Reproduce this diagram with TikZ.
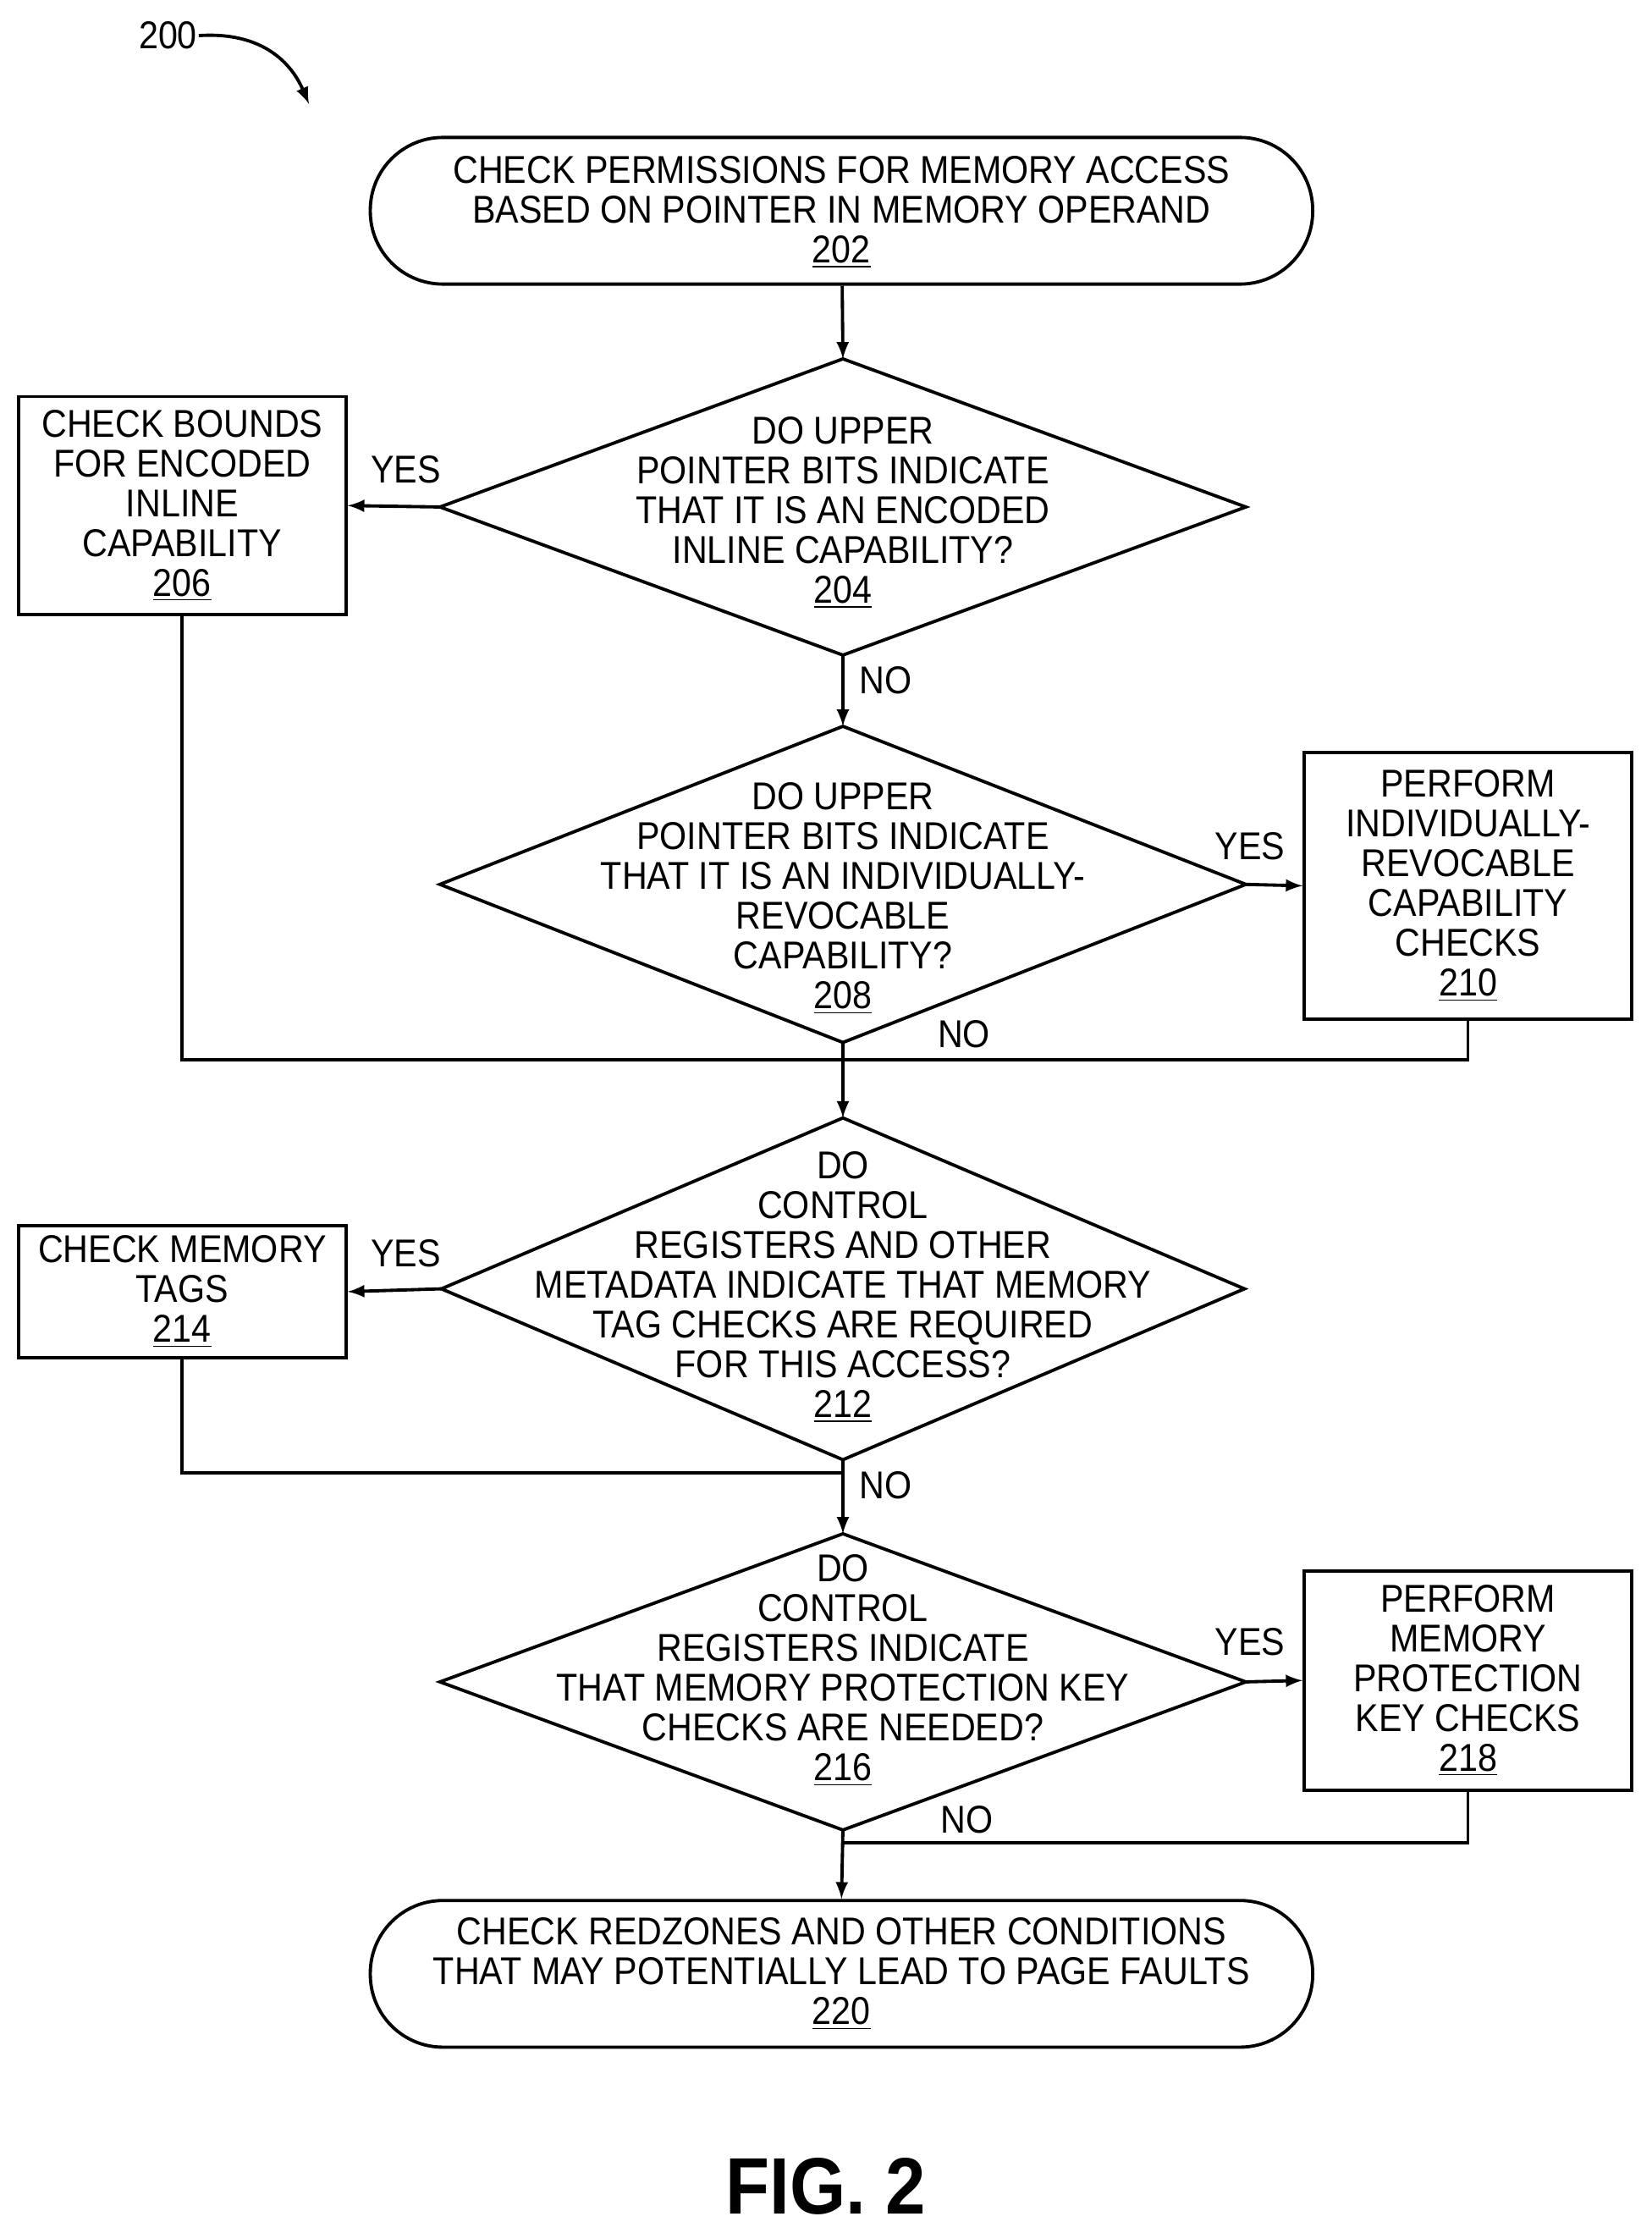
\documentclass[tikz,border=0pt]{standalone}
\usepackage{fontspec}
\setmainfont{Liberation Sans}[FakeStretch=0.9]
\usepackage{tikz}
\usetikzlibrary{positioning,arrows}

% diamond outline with named corner coordinates
\newcommand{\decbox}[5]{%
  \draw (#2-#4,#3) -- (#2,#3-#5) -- (#2+#4,#3) -- (#2,#3+#5) -- cycle;
  \coordinate (#1-n) at (#2,#3-#5);
  \coordinate (#1-s) at (#2,#3+#5);
  \coordinate (#1-w) at (#2-#4,#3);
  \coordinate (#1-e) at (#2+#4,#3);
}

\begin{document}
\begin{tikzpicture}[x=0.02cm,y=-0.02cm,line width=1.3pt,
  every node/.style={font=\fontsize{15.5}{15.9}\selectfont,align=center,inner sep=0pt},
  term/.style={draw,rounded corners=1.02cm,minimum width=13.24cm,minimum height=2.06cm},
  proc/.style={draw,minimum width=4.6cm},
  lbl/.style={font=\fontsize{15.5}{15.9}\selectfont},
  flow/.style={-latex}]

	\useasboundingbox (0,0) rectangle (1160,1568);

	%label
	\node (l200) at (118,25) {200};
	\coordinate (t200) at (217,73);
	\draw[flow] (l200.east) .. controls (185,22) and (205,45) .. (t200);

	%terminals
	\node[term] (n202) at (591,148) {};
	\node at (591,149) {CHECK PERMISSIONS FOR MEMORY ACCESS\\BASED ON POINTER IN MEMORY OPERAND\\\underline{202}};
	\node[term] (n220) at (591,1386) {};
	\node at (591,1386) {CHECK REDZONES AND OTHER CONDITIONS\\THAT MAY POTENTIALLY LEAD TO PAGE FAULTS\\\underline{220}};

	%decisions
	\decbox{d204}{592}{356}{283}{104}
	\node at (592,360) {DO UPPER\\POINTER BITS INDICATE\\THAT IT IS AN ENCODED\\INLINE CAPABILITY?\\\underline{204}};
	\decbox{d208}{592}{621}{283}{111}
	\node at (592,631) {DO UPPER\\POINTER BITS INDICATE\\THAT IT IS AN INDIVIDUALLY-\\REVOCABLE\\CAPABILITY?\\\underline{208}};
	\decbox{d212}{592}{905}{282}{120}
	\node at (592,904) {DO\\CONTROL\\REGISTERS AND OTHER\\METADATA INDICATE THAT MEMORY\\TAG CHECKS ARE REQUIRED\\FOR THIS ACCESS?\\\underline{212}};
	\decbox{d216}{592}{1181}{283}{104}
	\node at (592,1173) {DO\\CONTROL\\REGISTERS INDICATE\\THAT MEMORY PROTECTION KEY\\CHECKS ARE NEEDED?\\\underline{216}};

	%process boxes
	\node[proc,minimum height=3.06cm] (n206) at (128,355) {CHECK BOUNDS\\FOR ENCODED\\INLINE\\CAPABILITY\\\underline{206}};
	\node[proc,minimum height=3.74cm] (n210) at (1031,622) {PERFORM\\INDIVIDUALLY-\\REVOCABLE\\CAPABILITY\\CHECKS\\\underline{210}};
	\node[proc,minimum height=1.86cm] (n214) at (128,907) {CHECK MEMORY\\TAGS\\\underline{214}};
	\node[proc,minimum height=3.08cm] (n218) at (1031,1180) {PERFORM\\MEMORY\\PROTECTION\\KEY CHECKS\\\underline{218}};

	%merge points
	\coordinate (m1) at (592,744);
	\coordinate (m2) at (592,1034);
	\coordinate (m3) at (592,1294);

	%edges
	\draw[flow] (n202) -- (d204-n);
	\draw[flow] (d204-w) -- (n206.east);
	\draw[flow] (d204-s) -- (d208-n);
	\draw[flow] (d208-e) -- (n210.west);
	\draw (d208-s) -- (m1);
	\draw (n206.south) |- (m1);
	\draw (n210.south) |- (m1);
	\draw[flow] (m1) -- (d212-n);
	\draw[flow] (d212-w) -- (n214.east);
	\draw (n214.south) |- (m2);
	\draw[flow] (d212-s) -- (d216-n);
	\draw[flow] (d216-e) -- (n218.west);
	\draw (n218.south) |- (m3);
	\draw[flow] (d216-s) -- (n220.north);

	%edge labels
	\node[lbl] at (285,330) {YES};
	\node[lbl] at (622,478) {NO};
	\node[lbl] at (878,594) {YES};
	\node[lbl] at (677,726) {NO};
	\node[lbl] at (285,880) {YES};
	\node[lbl] at (622,1043) {NO};
	\node[lbl] at (878,1153) {YES};
	\node[lbl] at (679,1278) {NO};

	\node[font=\fontsize{32}{34}\bfseries\selectfont] at (580,1535) {FIG. 2};

\end{tikzpicture}
\end{document}
